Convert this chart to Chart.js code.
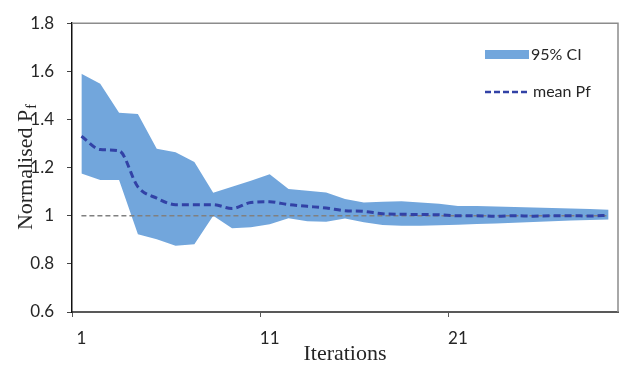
<!DOCTYPE html>
<html>
<head>
<meta charset="utf-8">
<script src="https://cdn.jsdelivr.net/npm/chart.js@4/dist/chart.umd.min.js"></script>
<style>
	html, body { margin:0; padding:0; background:#fff; }
	#pfChart { display:block; }
</style>
</head>
<body>
<canvas id="pfChart" width="620" height="368"></canvas>
<script>
// iterations 1..29
var iterations = [
	'1','2','3','4','5','6','7','8','9','10',
	'11','12','13','14','15','16','17','18','19','20',
	'21','22','23','24','25','26','27','28','29'
]
var shownLabels = ['1', '11', '21']

// 95% CI bounds and mean
var ciUpper = [
	1.590, 1.548, 1.428, 1.423, 1.278, 1.264, 1.223, 1.095, 1.120, 1.145,
	1.172, 1.111, 1.104, 1.097, 1.070, 1.055, 1.058, 1.060, 1.055, 1.050,
	1.040, 1.040, 1.038, 1.036, 1.034, 1.032, 1.030, 1.028, 1.025
]
var ciLower = [
	1.175, 1.148, 1.148, 0.923, 0.902, 0.875, 0.882, 1.000, 0.948, 0.952,
	0.965, 0.990, 0.977, 0.975, 0.988, 0.973, 0.962, 0.958, 0.958, 0.960,
	0.963, 0.966, 0.968, 0.971, 0.974, 0.977, 0.980, 0.982, 0.984
]
var meanPf = [
	1.330, 1.275, 1.270, 1.120, 1.073, 1.046, 1.046, 1.046, 1.030, 1.055,
	1.058, 1.046, 1.039, 1.032, 1.021, 1.018, 1.008, 1.006, 1.005, 1.004,
	1.000, 1.000, 0.998, 1.000, 0.998, 1.000, 1.000, 0.999, 1.002
]
var refValue = 1

var yMin = 0.6, yMax = 1.8, yStep = 0.2

var bandColor = 'rgb(114,166,220)'
var meanColor = '#3242a6'
var refColor = '#808080'
var textColor = '#262626'

function fmtY( v ) {
	return String( Math.round(v * 10) / 10 )
}

// plot box: grey top and right edges
var frame = {
	id: 'frame',
	afterDraw: function( chart ) {
		var a = chart.chartArea, c = chart.ctx
		c.save()
		c.strokeStyle = '#8c8c8c'
		c.lineWidth = 1.5
		c.beginPath()
		c.moveTo(a.left, a.top)
		c.lineTo(a.right, a.top)
		c.lineTo(a.right, a.bottom)
		c.stroke()
		c.restore()
	}
}

// y title with subscript f
var yTitle = {
	id: 'yTitle',
	afterDraw: function( chart ) {
		var a = chart.chartArea, c = chart.ctx
		var main = 'Normalised P', sub = 'f'
		c.save()
		c.fillStyle = textColor
		c.translate(32, (a.top + a.bottom) / 2)
		c.rotate(-Math.PI / 2)
		c.textBaseline = 'alphabetic'
		c.font = '22px "Liberation Serif"'
		var w1 = c.measureText(main).width
		c.font = '14px "Liberation Serif"'
		var w2 = c.measureText(sub).width
		var x0 = -(w1 + w2) / 2
		c.font = '22px "Liberation Serif"'
		c.fillText(main, x0, 0)
		c.font = '14px "Liberation Serif"'
		c.fillText(sub, x0 + w1 + 1, 4)
		c.restore()
	}
}

// legend in the top right corner
var cornerLegend = {
	id: 'cornerLegend',
	afterDraw: function( chart ) {
		var c = chart.ctx
		c.save()
		c.fillStyle = bandColor
		c.fillRect(485, 50, 44, 9)
		c.strokeStyle = meanColor
		c.lineWidth = 2.5
		c.setLineDash([6, 3])
		c.beginPath()
		c.moveTo(485, 92)
		c.lineTo(530, 92)
		c.stroke()
		c.setLineDash([])
		c.fillStyle = textColor
		c.font = '16px Lato'
		c.textBaseline = 'middle'
		c.fillText('95% CI', 531, 55)
		c.fillText('mean Pf', 533, 92)
		c.restore()
	}
}

function drawPfChart() {
	var ctx = document.getElementById('pfChart')
	var config = {
		type: 'line',
		data: {
			labels: iterations,
			datasets: [
				{
					label: '95% CI',
					data: ciUpper,
					borderWidth: 0,
					borderColor: bandColor,
					backgroundColor: bandColor,
					pointRadius: 0,
					fill: '+1',
					order: 3
				}, {
					label: 'lower',
					data: ciLower,
					borderWidth: 0,
					borderColor: bandColor,
					pointRadius: 0,
					fill: false,
					order: 3
				}, {
					label: 'reference',
					data: iterations.map(function() { return refValue }),
					borderColor: refColor,
					borderWidth: 1.5,
					borderDash: [5, 3],
					pointRadius: 0,
					fill: false,
					order: 2
				}, {
					label: 'mean Pf',
					data: meanPf,
					borderColor: meanColor,
					borderWidth: 3,
					borderDash: [7, 4],
					pointRadius: 0,
					cubicInterpolationMode: 'monotone',
					fill: false,
					order: 1
				}
			]
		},
		options: {
			responsive: false,
			animation: false,
			layout: { padding: { top: 19, right: 2, left: 0, bottom: 0 } },
			plugins: {
				legend: { display: false },
				tooltip: { enabled: false }
			},
			scales: {
				x: {
					type: 'category',
					offset: true,
					grid: {
						offset: true,
						drawOnChartArea: false,
						tickLength: 5,
						color: function( c ) {
							return (c.index !== undefined && c.index < iterations.length && c.index % 10 === 0) ? '#595959' : 'rgba(0,0,0,0)'
						}
					},
					border: { color: '#595959', width: 2 },
					ticks: {
						autoSkip: false,
						maxRotation: 0,
						padding: 11,
						color: textColor,
						font: { family: 'Lato', size: 17 },
						callback: function( v, i ) {
							var lab = iterations[i]
							return shownLabels.indexOf(lab) >= 0 ? lab : ''
						}
					},
					title: {
						display: true,
						text: 'Iterations',
						color: textColor,
						font: { family: 'Liberation Serif', size: 22 },
						padding: { top: 0, bottom: 1 }
					},
					afterFit: function( s ) { s.height = 56 }
				},
				y: {
					min: yMin,
					max: yMax,
					grid: {
						drawOnChartArea: false,
						tickLength: 5,
						color: '#444'
					},
					border: { color: '#111', width: 1.5 },
					ticks: {
						stepSize: yStep,
						padding: 13,
						color: textColor,
						font: { family: 'Lato', size: 17 },
						callback: function( v ) { return fmtY(v) }
					},
					afterFit: function( s ) { s.width = 72 }
				}
			}
		},
		plugins: [frame, yTitle, cornerLegend]
	}
	new Chart(ctx, config)
}

drawPfChart()
</script>
</body>
</html>
